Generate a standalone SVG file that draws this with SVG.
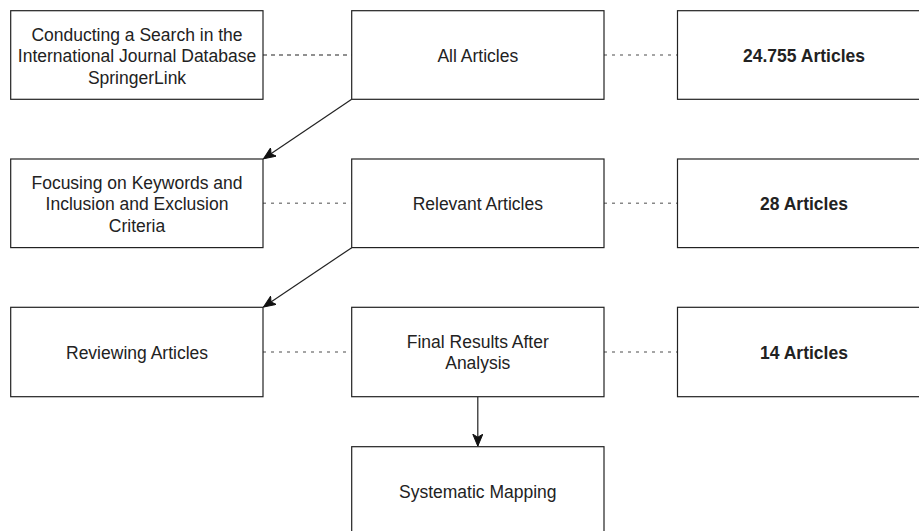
<svg xmlns="http://www.w3.org/2000/svg" width="919" height="531" viewBox="0 0 919 531">
<style>
.box{fill:#fff;stroke:#222;stroke-width:1.2}
.t{font-family:"Liberation Sans",Arial,sans-serif;font-size:17.5px;fill:#222;text-anchor:middle}
.b{font-weight:bold}
.dk{stroke:#222;stroke-width:1.2;stroke-dasharray:4 4;fill:none}
.gr{stroke:#888;stroke-width:1.5;stroke-dasharray:3 5;fill:none}
.arr{stroke:#222;stroke-width:1.2;fill:none;marker-end:url(#ah)}
</style>
<defs>
<marker id="ah" markerUnits="userSpaceOnUse" markerWidth="14" markerHeight="12" refX="12" refY="5" orient="auto">
<path d="M0,0 L12,5 L0,10 L3,5 Z" fill="#111" stroke="#111" stroke-width="1"/>
</marker>
</defs>
<rect width="919" height="531" fill="#fff"/>
<g id="connectors">
<line class="dk" x1="263" y1="55" x2="351.7" y2="55"/>
<line class="gr" x1="604" y1="55" x2="677.5" y2="55"/>
<line class="gr" x1="263" y1="203.3" x2="351.7" y2="203.3"/>
<line class="gr" x1="604" y1="203.3" x2="677.5" y2="203.3"/>
<line class="gr" x1="263" y1="352" x2="351.7" y2="352"/>
<line class="gr" x1="604" y1="352" x2="677.5" y2="352"/>
<line class="arr" x1="351.7" y1="99.3" x2="263.5" y2="158.7"/>
<line class="arr" x1="351.7" y1="247.7" x2="263.5" y2="307"/>
<line class="arr" x1="477.8" y1="396.7" x2="477.8" y2="446.2"/>
</g>
<g id="search">
<rect class="box" x="10.7" y="10.7" width="252.3" height="88.6"/>
<text class="t" x="137" y="40.7">Conducting a Search in the</text>
<text class="t" x="137" y="62.2">International Journal Database</text>
<text class="t" x="137" y="83.7">SpringerLink</text>
</g>
<g id="all-articles">
<rect class="box" x="351.7" y="10.7" width="252.3" height="88.6"/>
<text class="t" x="477.8" y="61.5">All Articles</text>
</g>
<g id="count-24755">
<rect class="box" x="677.5" y="10.7" width="252.3" height="88.6"/>
<text class="t b" x="804" y="61.5">24.755 Articles</text>
</g>
<g id="focusing">
<rect class="box" x="10.7" y="159" width="252.3" height="88.6"/>
<text class="t" x="137" y="188.8">Focusing on Keywords and</text>
<text class="t" x="137" y="210.3">Inclusion and Exclusion</text>
<text class="t" x="137" y="231.8">Criteria</text>
</g>
<g id="relevant-articles">
<rect class="box" x="351.7" y="159" width="252.3" height="88.6"/>
<text class="t" x="477.8" y="209.8">Relevant Articles</text>
</g>
<g id="count-28">
<rect class="box" x="677.5" y="159" width="252.3" height="88.6"/>
<text class="t b" x="804" y="209.8">28 Articles</text>
</g>
<g id="reviewing">
<rect class="box" x="10.7" y="307.3" width="252.3" height="89.4"/>
<text class="t" x="137" y="358.5">Reviewing Articles</text>
</g>
<g id="final-results">
<rect class="box" x="351.7" y="307.3" width="252.3" height="89.4"/>
<text class="t" x="477.8" y="347.8">Final Results After</text>
<text class="t" x="477.8" y="369.3">Analysis</text>
</g>
<g id="count-14">
<rect class="box" x="677.5" y="307.3" width="252.3" height="89.4"/>
<text class="t b" x="804" y="358.5">14 Articles</text>
</g>
<g id="systematic-mapping">
<rect class="box" x="351.7" y="446.7" width="252.3" height="88.6"/>
<text class="t" x="477.8" y="497.5">Systematic Mapping</text>
</g>
</svg>
